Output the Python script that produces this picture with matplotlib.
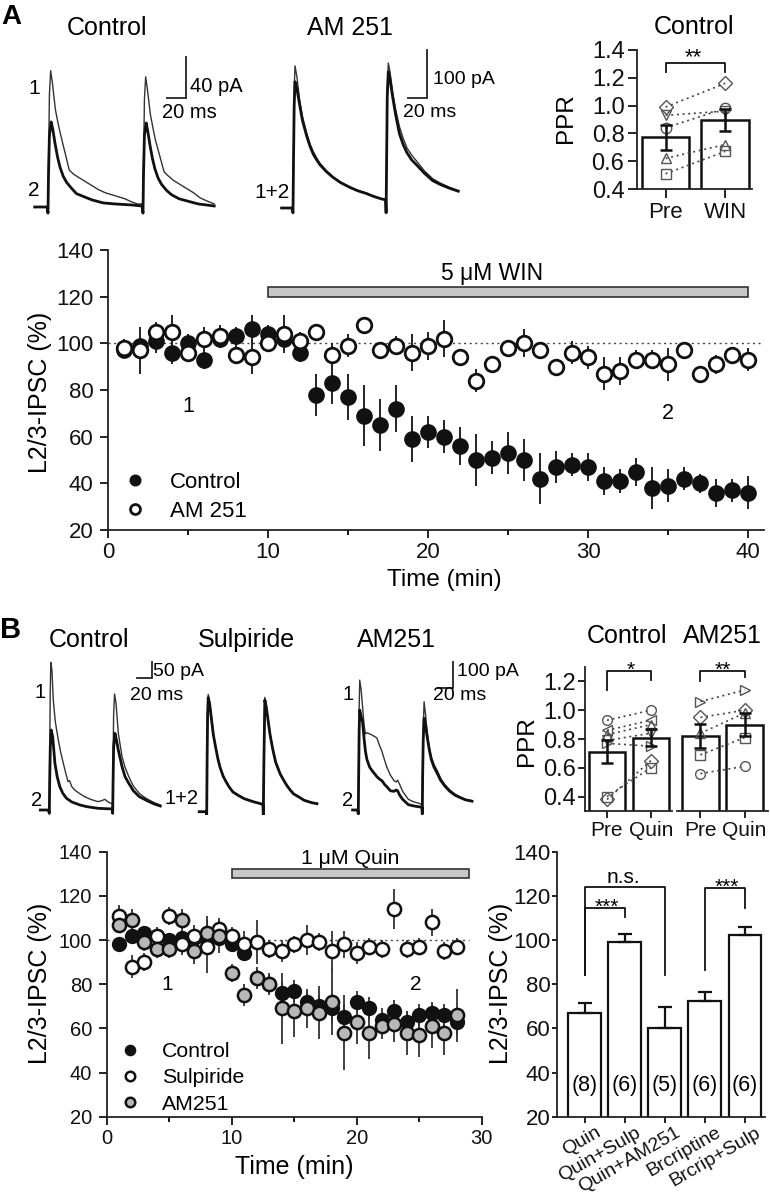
import matplotlib
matplotlib.use('Agg')
import matplotlib.pyplot as plt
import matplotlib.transforms as mtransforms
from matplotlib.patches import Rectangle

plt.rcParams['font.family'] = ['Liberation Sans', 'DejaVu Sans']
plt.rcParams['axes.linewidth'] = 1.2

# ------------------------------------------------------------------ DATA
# Panel A - time course (percent of baseline)
timeA = list(range(1, 41))
a_ctrl = [97, 99, 101, 96, 100, 93, 102, 103, 106, 104, 102, 96, 78, 83, 77, 69, 65, 72, 59, 62,
          60, 56, 50, 51, 53, 50, 42, 47, 48, 47, 41, 41, 45, 38, 39, 42, 40, 36, 37, 36]
a_ctrl_err = [3, 3, 5, 5, 4, 4, 4, 4, 6, 4, 5, 4, 9, 9, 10, 13, 11, 10, 10, 7,
              7, 8, 11, 7, 9, 9, 11, 7, 5, 6, 6, 5, 6, 9, 7, 5, 4, 6, 5, 7]
a_am = [98, 97, 105, 105, 96, 102, 103, 95, 94, 100, 104, 101, 105, 95, 99, 108, 97, 99, 96, 99,
        102, 94, 84, 91, 98, 100, 97, 90, 96, 94, 87, 88, 93, 93, 91, 97, 87, 91, 95, 93]
a_am_err = [4, 10, 4, 7, 4, 5, 5, 4, 7, 3, 8, 4, 3, 5, 5, 2, 3, 4, 8, 6,
            8, 3, 5, 3, 3, 6, 3, 2, 5, 5, 7, 6, 4, 4, 7, 3, 3, 4, 3, 5]
win_bar = (10, 40)

# Panel A - PPR
ppr_a_markers = ['D', 'v', 'o', '^', 's']
ppr_a_pre = [0.99, 0.93, 0.84, 0.62, 0.51]
ppr_a_win = [1.16, 0.96, 0.98, 0.72, 0.67]
ppr_a_mean = [0.772, 0.896]
ppr_a_err = [0.09, 0.08]
ppr_a_cats = ['Pre', 'WIN']

# Panel B - time course
timeB = list(range(1, 29))
b_ctrl = [98, 102, 103, 102, 100, 101, 101, 100, 101, 98, 94, 83, 80, 76, 77, 72, 70, 69, 65, 72,
          69, 64, 68, 63, 66, 67, 66, 63]
b_ctrl_err = [3, 3, 3, 3, 3, 3, 3, 3, 3, 3, 3, 4, 4, 5, 5, 5, 5, 6, 6, 5,
              5, 5, 5, 5, 5, 5, 5, 6]
b_sulp = [111, 88, 90, 102, 111, 98, 102, 97, 105, 102, 98, 99, 96, 95, 98, 100, 99, 95, 98, 94,
          97, 96, 114, 96, 97, 108, 95, 97]
b_sulp_err = [5, 5, 4, 4, 4, 5, 5, 12, 4, 4, 6, 10, 4, 5, 4, 7, 4, 9, 6, 5,
              4, 4, 9, 4, 4, 6, 4, 4]
b_am = [107, 109, 99, 96, 96, 109, 95, 103, 102, 85, 75, 83, 80, 69, 68, 69, 67, 72, 58, 63,
        58, 61, 62, 58, 57, 61, 58, 66]
b_am_err = [4, 5, 4, 4, 4, 5, 6, 8, 8, 4, 5, 5, 5, 16, 12, 9, 12, 15, 17, 10,
            12, 6, 8, 10, 10, 10, 10, 12]
quin_bar = (10, 29)

# Panel B - PPR
ppr_b_cats = ['Pre', 'Quin']
ppr_bc_markers = ['o', '<', '^', 'v', '>', 'D', 's']
ppr_bc_pre = [0.93, 0.86, 0.83, 0.79, 0.77, 0.38, 0.40]
ppr_bc_quin = [1.00, 0.93, 0.90, 0.84, 0.75, 0.65, 0.60]
ppr_bc_mean = [0.71, 0.81]
ppr_bc_err = [0.08, 0.06]
ppr_ba_markers = ['>', 'D', '^', 's', 'o']
ppr_ba_pre = [1.06, 0.95, 0.84, 0.69, 0.56]
ppr_ba_quin = [1.14, 1.00, 0.98, 0.81, 0.61]
ppr_ba_mean = [0.82, 0.90]
ppr_ba_err = [0.085, 0.08]

# Panel B - bar summary
bar_labels = ['Quin', 'Quin+Sulp', 'Quin+AM251', 'Brcriptine', 'Brcrip+Sulp']
bar_means = [67, 99, 60, 72.5, 102.5]
bar_err = [4.5, 3.6, 9.5, 4, 3.3]
bar_n = ['(8)', '(6)', '(5)', '(6)', '(6)']

# Example traces (time in ms, current in pA)
tA_c1 = [-14, -1, 0, 0.5, 1.5, 2.8, 4.5, 7.8, 10.5, 12.9, 15.5, 18.2, 20.5, 22.4, 27, 32, 39, 46, 53, 60,
         67, 74, 81, 88, 94, 99, 100, 100.5, 101.5, 102.8, 104.5, 107.8, 110.5, 112.9, 115.5, 118.2,
         120.5, 122.4, 127, 132, 139, 146, 153, 160, 167, 175]
vA_c1 = [0, 0, -6, 40, 110, 133, 122, 95, 82, 72, 62, 52, 43, 36, 32, 29, 25, 21, 17, 14,
         12, 10, 8, 5, 3, 3, -6, 40, 105, 127, 116, 90, 77, 66, 57, 48,
         40, 34, 30, 26, 22, 18, 14, 9, 6, 3]
tA_c2 = [-14, -1, 0, 0.5, 1.5, 3.3, 5, 7.4, 10, 12.6, 16, 19.6, 25, 30, 38, 46, 58, 70, 88, 99,
         100, 100.5, 101.5, 103.3, 105, 107.4, 110, 112.6, 116, 119.6, 125, 130, 138, 146, 158, 175]
vA_c2 = [0, 0, -6, 30, 70, 83, 76, 62, 49, 39, 30, 24, 18, 13, 10, 7, 4, 3, 2, 1,
         -6, 30, 70, 82, 74, 60, 47, 37, 28, 22, 16, 12, 8, 6, 3, 1]
tA_a = [-12, -1, 0, 0.5, 1.2, 2.1, 4, 7, 10, 14.4, 18, 21.4, 25, 28.4, 35, 42, 50, 59.8, 68, 77.4,
        85, 93, 97.5, 98, 98.5, 99.2, 100.3, 102, 105, 108, 112, 116, 120, 125, 130, 138, 147, 155, 165, 174]
vA_a1 = [0, 0, -10, 100, 240, 296, 275, 225, 190, 156, 133, 117, 104, 93, 78, 65, 54, 44, 37, 31,
         25, 19, 17, -10, 100, 250, 302, 285, 240, 205, 170, 145, 125, 110, 98, 78, 61, 52, 43, 36]
vA_a2 = [0, 0, -10, 90, 210, 263, 250, 215, 182, 150, 128, 112, 100, 90, 76, 64, 53, 43, 36, 30,
         24, 19, 17, -10, 90, 230, 284, 270, 230, 195, 155, 132, 115, 100, 90, 73, 57, 49, 41, 35]

tB_c1 = [-12, -1, 0, 0.5, 1.2, 2, 3.5, 5.3, 8, 12, 15, 18.7, 22, 25, 27, 30, 33.8, 40, 47, 55,
         64.9, 70, 74, 78, 82, 84, 84.5, 85, 85.7, 87, 89, 92, 97, 101, 106, 112, 120, 127, 133, 140, 148]
vB_c1 = [0, 0, -10, 150, 350, 443, 420, 330, 265, 210, 175, 140, 110, 85, 88, 70, 60, 50, 40, 32,
         25, 28, 32, 25, 20, 20, -10, 120, 280, 348, 320, 230, 160, 128, 100, 72, 50, 38, 30, 22, 15]
tB_c2 = [-12, -1, 0, 0.5, 1.3, 2.5, 4.5, 7.5, 10.5, 14, 18, 23, 30, 41, 50, 65, 75, 84, 84.5, 85,
         85.8, 87.5, 89.5, 92, 97, 101, 106, 112, 120, 127, 133, 140, 148]
vB_c2 = [0, 0, -10, 80, 190, 240, 220, 140, 100, 70, 50, 35, 24, 15, 10, 5, 4, 3, -10, 80,
         190, 230, 210, 180, 130, 100, 80, 58, 40, 32, 25, 18, 12]
tB_s = [-10, -1, 0, 0.5, 1.2, 2, 4, 6, 8.9, 12, 15, 17.8, 22, 26, 30, 35, 42, 50, 62, 72,
        75, 75.5, 76.2, 77.5, 79.5, 81.5, 84.4, 88, 92, 98, 103, 107, 112, 116, 123, 130, 140, 147]
vB_s1 = [0, 0, -10, 150, 300, 352, 330, 290, 235, 195, 160, 135, 108, 90, 75, 60, 50, 40, 30, 25,
         22, -10, 150, 343, 320, 285, 235, 190, 150, 115, 95, 80, 65, 55, 45, 35, 28, 25]
vB_s2 = [0, 0, -10, 140, 290, 342, 322, 284, 230, 192, 158, 133, 106, 89, 74, 59, 49, 39, 30, 24,
         21, -10, 140, 335, 312, 280, 232, 188, 148, 113, 93, 78, 63, 53, 44, 34, 27, 24]
tB_a = [-8, -1, 0, 0.5, 1.2, 2, 4, 6, 8, 10, 12, 16, 20, 26, 30, 33, 37, 40, 45, 50,
        53, 55, 58, 62, 70, 78, 85, 89, 89.5, 90, 90.8, 92, 94, 96, 99, 102, 106, 110, 115, 121,
        128, 135, 142, 150, 159]
vB_a1 = [0, 0, -15, 150, 380, 487, 450, 387, 320, 285, 290, 285, 280, 270, 240, 220, 185, 160, 130, 110,
         105, 112, 95, 70, 40, 30, 25, 20, -15, 150, 300, 406, 360, 300, 240, 200, 170, 150, 120, 95,
         75, 60, 50, 40, 35]
vB_a2 = [0, 0, -15, 130, 300, 375, 350, 330, 270, 220, 190, 160, 145, 125, 115, 110, 95, 87, 72, 70,
         75, 72, 55, 40, 20, 15, 12, 10, -15, 130, 260, 344, 320, 280, 230, 190, 160, 140, 112, 90,
         70, 56, 47, 38, 33]

# ------------------------------------------------------------------ LAYOUT HELPERS
W, H = 770, 1199
fig = plt.figure(figsize=(W / 100, H / 100), dpi=100)


def px_axes(x0, y0, x1, y1):
    return fig.add_axes([x0 / W, 1 - y1 / H, (x1 - x0) / W, (y1 - y0) / H])


def ftext(x, y, s, **kw):
    kw.setdefault('ha', 'center')
    kw.setdefault('va', 'center')
    return fig.text(x / W, 1 - y / H, s, **kw)


def trace_axes(box, stim_px, base_px, sx, sy):
    x0, y0, x1, y1 = box
    ax = px_axes(x0, y0, x1, y1)
    ax.set_xlim((x0 - stim_px) / sx, (x1 - stim_px) / sx)
    ax.set_ylim((base_px - y1) / sy, (base_px - y0) / sy)
    ax.axis('off')
    return ax


def scale_bar(ax, t_end, v0, dt, dv, lbl_v, lbl_t, pos_v, pos_t, fs):
    ax.plot([t_end - dt, t_end, t_end], [v0, v0, v0 + dv], color='#222', lw=1.3,
            solid_joinstyle='miter', clip_on=False)
    ax.text(pos_v[0], pos_v[1], lbl_v, fontsize=fs, ha='left', va='center')
    ax.text(pos_t[0], pos_t[1], lbl_t, fontsize=fs, ha='left', va='center')


def style(ax, fs, length=5.5, pad=4.0):
    for s in ['top', 'right']:
        ax.spines[s].set_visible(False)
    for s in ['left', 'bottom']:
        ax.spines[s].set_linewidth(1.3)
        ax.spines[s].set_color('#222')
    ax.tick_params(direction='out', length=length, width=1.3, labelsize=fs, colors='#111', pad=pad)
    ax.tick_params(which='minor', direction='out', length=length * 0.65, width=1.3)


THIN = dict(color='#333', lw=1.0)
THICK = dict(color='#111', lw=2.0)

# ------------------------------------------------------------------ PANEL A traces
ftext(11, 17, 'A', fontsize=20, fontweight='bold')
ftext(107, 28, 'Control', fontsize=18)
ftext(350, 28, 'AM 251', fontsize=18)

axt = trace_axes((30, 40, 260, 218), 48, 207, 0.95, 1.025)
axt.plot(tA_c1, vA_c1, **THIN)
axt.plot(tA_c2, vA_c2, **THICK)
scale_bar(axt, 145, 106, 20, 40, '40 pA', '20 ms', (150, 118), (120, 92), 14.5)
ftext(34, 88, '1', fontsize=15)
ftext(34, 190, '2', fontsize=15)

axt = trace_axes((275, 40, 470, 218), 293, 208, 0.95, 0.48)
axt.plot(tA_a, vA_a1, **THIN)
axt.plot(tA_a, vA_a2, **THICK)
scale_bar(axt, 141, 229, 20, 100, '100 pA', '20 ms', (147, 267), (116, 198), 14)
ftext(272, 192, '1+2', fontsize=15)

# ------------------------------------------------------------------ PANEL A PPR
ftext(694, 27, 'Control', fontsize=18)
axp = px_axes(637, 50, 752, 189)
xs = [1, 2]
axp.bar(xs, ppr_a_mean, width=0.8, facecolor='white', edgecolor='#111', lw=1.8, zorder=1)
for m, p, w in zip(ppr_a_markers, ppr_a_pre, ppr_a_win):
    axp.plot(xs, [p, w], ls=(0, (1.2, 2.2)), color='#444', lw=1.2, zorder=2)
    axp.plot(xs, [p, w], ls='none', marker=m, ms=7.5, mfc='none', mec='#555', mew=1.0, zorder=3)
axp.errorbar(xs, ppr_a_mean, yerr=ppr_a_err, fmt='none', ecolor='#111', elinewidth=1.8,
             capsize=4, capthick=1.8, zorder=4)
axp.set_xlim(0.52, 2.45)
axp.set_ylim(0.4, 1.4)
axp.set_yticks([0.4, 0.6, 0.8, 1.0, 1.2, 1.4])
axp.set_yticklabels(['%.1f' % v for v in [0.4, 0.6, 0.8, 1.0, 1.2, 1.4]])
axp.set_xticks(xs)
axp.set_xticklabels(ppr_a_cats)
style(axp, 17, length=6.5, pad=2.5)
axp.tick_params(axis='x', labelsize=16, pad=3)
axp.plot([1, 1, 2, 2], [1.24, 1.31, 1.31, 1.24], color='#111', lw=1.3, clip_on=False)
axp.text(1.47, 1.305, '**', fontsize=16, ha='center', va='baseline')
ftext(566, 118, 'PPR', fontsize=17.5, rotation=90)

# ------------------------------------------------------------------ PANEL A time course
axA = px_axes(108, 250, 764, 530)
axA.axhline(100, ls=(0, (1.5, 2.5)), color='#444', lw=1.0, zorder=1)
axA.errorbar(timeA, a_ctrl, yerr=a_ctrl_err, fmt='none', ecolor='#222', elinewidth=1.4, zorder=2)
axA.errorbar(timeA, a_am, yerr=a_am_err, fmt='none', ecolor='#222', elinewidth=1.4, zorder=2)
hc, = axA.plot(timeA, a_ctrl, 'o', ms=10.5, mfc='#111', mec='#111', mew=1.5, zorder=3, label='Control')
ha, = axA.plot(timeA, a_am, 'o', ms=10.5, mfc='white', mec='#111', mew=2.0, zorder=4, label='AM 251')
axA.add_patch(Rectangle((win_bar[0], 120), win_bar[1] - win_bar[0], 4, facecolor='#c8c8c8',
                        edgecolor='#333', lw=1.2, zorder=2))
axA.text((win_bar[0] + win_bar[1]) / 2 - 1, 130, '5 μM WIN', fontsize=16.5, ha='center', va='center')
axA.text(5, 73, '1', fontsize=15.5, ha='center', va='center')
axA.text(35, 70, '2', fontsize=15.5, ha='center', va='center')
axA.set_xlim(0, 41)
axA.set_ylim(20, 140)
axA.set_xticks([0, 10, 20, 30, 40])
axA.set_xticks([5, 15, 25, 35], minor=True)
axA.set_yticks([20, 40, 60, 80, 100, 120, 140])
style(axA, 16, length=5.8, pad=4.5)
axA.tick_params(axis='x', pad=3.0)
axA.legend(handles=[hc, ha], loc='lower left', bbox_to_anchor=(0.024, 0.03), frameon=False,
           fontsize=16, handlelength=1.0, handletextpad=1.08, borderpad=0, borderaxespad=0,
           labelspacing=0.34, markerscale=0.68)
ftext(444, 580, 'Time (min)', fontsize=17.5)
ftext(40, 392, 'L2/3-IPSC (%)', fontsize=18, rotation=90)

# ------------------------------------------------------------------ PANEL B traces
ftext(11, 630, 'B', fontsize=21, fontweight='bold')
ftext(89, 640, 'Control', fontsize=18)
ftext(246, 640, 'Sulpiride', fontsize=18)
ftext(396, 640, 'AM251', fontsize=18)

axt = trace_axes((35, 655, 180, 815), 49.3, 810, 0.75, 1 / 3)
axt.plot(tB_c1, vB_c1, **THIN)
axt.plot(tB_c2, vB_c2, **THICK)
scale_bar(axt, 137, 395, 20, 50, '50 pA', '20 ms', (138, 415), (107.6, 345), 14)
ftext(40, 693, '1', fontsize=14.5)
ftext(37, 800, '2', fontsize=14.5)

axt = trace_axes((195, 655, 330, 815), 206.7, 811.7, 0.75, 1 / 3)
axt.plot(tB_s, vB_s1, **THIN)
axt.plot(tB_s, vB_s2, **THICK)
ftext(182, 799, '1+2', fontsize=14.5)

axt = trace_axes((350, 655, 480, 815), 358.3, 810, 0.715, 1 / 3.75)
axt.plot(tB_a, vB_a1, **THIN)
axt.plot(tB_a, vB_a2, **THICK)
scale_bar(axt, 132, 456, 20, 100, '100 pA', '20 ms', (137.6, 519), (105, 431), 14)
ftext(348, 695, '1', fontsize=14.5)
ftext(348, 800, '2', fontsize=14.5)

# ------------------------------------------------------------------ PANEL B PPR
ftext(627, 636, 'Control', fontsize=18)
ftext(722, 636, 'AM251', fontsize=18)
ftext(527, 741, 'PPR', fontsize=17.5, rotation=90)


def ppr_group(ax, markers, pre, post, mean, err):
    ax.bar(xs, mean, width=0.82, facecolor='white', edgecolor='#111', lw=1.8, zorder=1)
    for m, p, q in zip(markers, pre, post):
        ax.plot(xs, [p, q], ls=(0, (1.2, 2.2)), color='#444', lw=1.2, zorder=2)
        ax.plot(xs, [p, q], ls='none', marker=m, ms=7, mfc='none', mec='#555', mew=1.0, zorder=3)
    ax.errorbar(xs, mean, yerr=err, fmt='none', ecolor='#111', elinewidth=1.8,
                capsize=4, capthick=1.8, zorder=4)
    ax.set_ylim(0.3, 1.3)
    ax.set_xticks(xs)
    ax.set_xticklabels(ppr_b_cats)
    style(ax, 17, length=5, pad=1.5)
    ax.tick_params(axis='x', labelsize=15, pad=2)


axb1 = px_axes(585, 667, 672, 811)
ppr_group(axb1, ppr_bc_markers, ppr_bc_pre, ppr_bc_quin, ppr_bc_mean, ppr_bc_err)
axb1.set_xlim(0.5, 2.48)
axb1.set_yticks([0.4, 0.6, 0.8, 1.0, 1.2])
axb1.set_yticklabels(['%.1f' % v for v in [0.4, 0.6, 0.8, 1.0, 1.2]])
axb1.plot([1, 1, 2, 2], [1.14, 1.27, 1.27, 1.207], color='#111', lw=1.3, clip_on=False)
axb1.text(1.545, 1.24, '*', fontsize=15, ha='center', va='baseline')

axb2 = px_axes(677, 667, 768, 811)
ppr_group(axb2, ppr_ba_markers, ppr_ba_pre, ppr_ba_quin, ppr_ba_mean, ppr_ba_err)
axb2.set_xlim(0.47, 2.53)
axb2.spines['left'].set_visible(False)
axb2.set_yticks([])
axb2.plot([1, 1, 2, 2], [1.2, 1.27, 1.27, 1.23], color='#111', lw=1.3, clip_on=False)
axb2.text(1.515, 1.24, '**', fontsize=15, ha='center', va='baseline')

# ------------------------------------------------------------------ PANEL B time course
axB = px_axes(106.7, 851.7, 481.7, 1116.7)
axB.hlines(100, 0, quin_bar[1], linestyles=(0, (1.5, 2.5)), colors='#444', lw=1.0, zorder=1)
for yy, ee in [(b_ctrl, b_ctrl_err), (b_sulp, b_sulp_err), (b_am, b_am_err)]:
    axB.errorbar(timeB, yy, yerr=ee, fmt='none', ecolor='#333', elinewidth=1.3, zorder=2)
h1, = axB.plot(timeB, b_ctrl, 'o', ms=9.5, mfc='#111', mec='#111', mew=1.5, zorder=3, label='Control')
h2, = axB.plot(timeB, b_sulp, 'o', ms=9.5, mfc='white', mec='#111', mew=1.8, zorder=4, label='Sulpiride')
h3, = axB.plot(timeB, b_am, 'o', ms=9.5, mfc='#b8b8b8', mec='#111', mew=1.8, zorder=5, label='AM251')
axB.add_patch(Rectangle((quin_bar[0], 128), quin_bar[1] - quin_bar[0], 4, facecolor='#c8c8c8',
                        edgecolor='#333', lw=1.2, zorder=2))
axB.text(19.5, 137, '1 μM Quin', fontsize=15.3, ha='center', va='center')
axB.text(4.8, 80, '1', fontsize=15, ha='center', va='center')
axB.text(24.7, 80, '2', fontsize=15, ha='center', va='center')
axB.set_xlim(0, 30)
axB.set_ylim(20, 140)
axB.set_xticks([0, 10, 20, 30])
axB.set_xticks([5, 15, 25], minor=True)
axB.set_yticks([20, 40, 60, 80, 100, 120, 140])
style(axB, 14.5, length=6, pad=4.5)
axB.tick_params(axis='x', pad=3.0)
axB.legend(handles=[h1, h2, h3], loc='lower left', bbox_to_anchor=(0.034, 0.012), frameon=False,
           fontsize=15.3, handlelength=1.0, handletextpad=1.0, borderpad=0, borderaxespad=0,
           labelspacing=0.34, markerscale=0.72)
ftext(294, 1167, 'Time (min)', fontsize=18)
ftext(40, 983, 'L2/3-IPSC (%)', fontsize=18, rotation=90)

# ------------------------------------------------------------------ PANEL B bar summary
axS = px_axes(556.7, 851.7, 765, 1116.7)
bx = list(range(1, len(bar_means) + 1))
axS.bar(bx, bar_means, width=0.82, facecolor='white', edgecolor='#111', lw=1.6, zorder=2)
axS.errorbar(bx, bar_means, yerr=[[0] * len(bar_err), bar_err], fmt='none', ecolor='#111',
             elinewidth=1.6, capsize=5, capthick=1.6, zorder=3)
for xi, n in zip(bx, bar_n):
    axS.text(xi, 34, n, fontsize=15.5, ha='center', va='center', zorder=4)
axS.set_xlim(0.3, 5.5)
axS.set_ylim(20, 140)
axS.set_yticks([20, 40, 60, 80, 100, 120, 140])
axS.set_xticks(bx)
axS.set_xticklabels(bar_labels, rotation=30, ha='right', va='top')
style(axS, 16, length=3.5, pad=0.8)
axS.tick_params(axis='x', labelsize=14, length=4, pad=2)
off = mtransforms.ScaledTranslation(19 / 100, 1 / 100, fig.dpi_scale_trans)
for lbl in axS.get_xticklabels():
    lbl.set_transform(lbl.get_transform() + off)
axS.plot([1, 1, 3, 3], [84, 124.1, 124.1, 84], color='#111', lw=1.3)
axS.text(1.96, 125.7, 'n.s.', fontsize=15, ha='center', va='baseline')
axS.plot([1, 1, 2, 2], [84, 114.4, 114.4, 110.5], color='#111', lw=1.3)
axS.text(1.55, 112.4, '***', fontsize=15, ha='center', va='baseline')
axS.plot([4, 4, 5, 5], [86.4, 123.4, 123.4, 114.4], color='#111', lw=1.3)
axS.text(4.55, 121.4, '***', fontsize=15, ha='center', va='baseline')
ftext(501, 983, 'L2/3-IPSC (%)', fontsize=18, rotation=90)

fig.savefig('out.png', dpi=100, facecolor='white')
